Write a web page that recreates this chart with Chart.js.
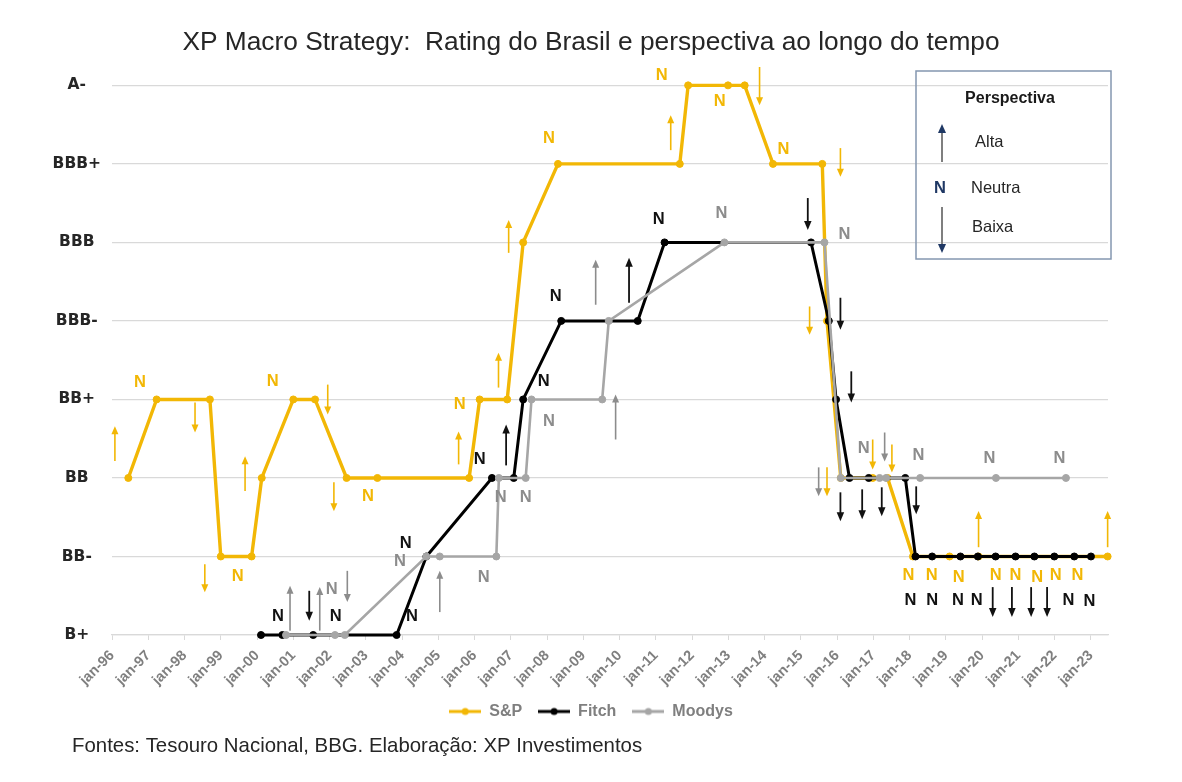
<!DOCTYPE html>
<html>
<head>
<meta charset="utf-8">
<script src="https://cdn.jsdelivr.net/npm/chart.js@4.4.1/dist/chart.umd.min.js"></script>
<style>
html,body{margin:0;padding:0;background:#fff;}
#wrap{width:1182px;height:782px;position:relative;}
</style>
</head>
<body>
<div id="wrap"><canvas id="c"></canvas></div>
<script>
// ---------- DATA ----------
const ratingLabels = ['B+','BB-','BB','BB+','BBB-','BBB','BBB+','A-'];
const yearTicks = [1996,1997,1998,1999,2000,2001,2002,2003,2004,2005,2006,2007,2008,2009,2010,2011,2012,2013,2014,2015,2016,2017,2018,2019,2020,2021,2022,2023];
const xTickLabels = ['jan-96','jan-97','jan-98','jan-99','jan-00','jan-01','jan-02','jan-03','jan-04','jan-05','jan-06','jan-07','jan-08','jan-09','jan-10','jan-11','jan-12','jan-13','jan-14','jan-15','jan-16','jan-17','jan-18','jan-19','jan-20','jan-21','jan-22','jan-23'];
const seriesNames = ['S&P','Fitch','Moodys'];

// [year, rating level] (0 = B+ ... 7 = A-)
const spData = [[1996.45,2],[1997.23,3],[1998.70,3],[1999.00,1],[1999.85,1],[2000.13,2],[2001.00,3],[2001.60,3],[2002.47,2],[2003.32,2],[2005.85,2],[2006.14,3],[2006.90,3],[2007.34,5],[2008.30,6],[2011.66,6],[2011.89,7],[2012.99,7],[2013.45,7],[2014.23,6],[2015.59,6],[2015.72,4],[2016.10,2],[2016.98,2],[2017.39,2],[2018.09,1],[2019.10,1],[2019.90,1],[2023.46,1]];
const fitchData = [[2000.11,0],[2000.70,0],[2001.55,0],[2003.85,0],[2004.67,1],[2006.48,2],[2007.08,2],[2007.34,3],[2008.39,4],[2010.50,4],[2011.24,5],[2015.28,5],[2015.77,4],[2015.97,3],[2016.34,2],[2016.87,2],[2017.88,2],[2018.16,1],[2018.62,1],[2019.40,1],[2019.88,1],[2020.37,1],[2020.92,1],[2021.44,1],[2021.99,1],[2022.54,1],[2023.00,1]];
const moodysData = [[2000.80,0],[2002.15,0],[2002.42,0],[2004.67,1],[2005.04,1],[2006.60,1],[2006.67,2],[2007.41,2],[2007.57,3],[2009.52,3],[2009.70,4],[2012.89,5],[2015.65,5],[2016.10,2],[2017.17,2],[2017.35,2],[2018.29,2],[2020.38,2],[2022.31,2]];

// Outlook annotations: "N" = neutral [year, level]; arrows [year, tail level, tip level]
const spN = [[1996.77,3.21],[1999.47,0.74],[2000.43,3.23],[2003.06,1.77],[2005.59,2.94],[2008.05,6.33],[2011.16,7.13],[2012.76,6.79],[2014.52,6.18],[2017.97,0.76],[2018.61,0.76],[2019.35,0.73],[2020.37,0.76],[2020.92,0.76],[2021.52,0.73],[2022.03,0.76],[2022.63,0.76]];
const spArrows = [[1996.08,2.215,2.659],[1998.29,2.961,2.579],[1998.56,0.902,0.546],[1999.67,1.834,2.278],[2001.95,3.189,2.808],[2002.12,1.944,1.576],[2005.56,2.173,2.592],[2006.66,3.151,3.596],[2006.94,4.867,5.286],[2011.41,6.175,6.620],[2013.86,7.234,6.747],[2016.09,6.201,5.836],[2015.24,4.184,3.825],[2015.72,2.135,1.766],[2016.98,2.490,2.109],[2017.51,2.427,2.071],[2019.90,1.118,1.579],[2023.46,1.118,1.579]];
const fitchN = [[2000.58,0.24],[2002.17,0.24],[2004.10,1.16],[2004.27,0.23],[2006.14,2.24],[2007.91,3.23],[2008.24,4.31],[2011.08,5.29],[2018.02,0.445],[2018.62,0.445],[2019.33,0.445],[2019.85,0.445],[2022.38,0.445],[2022.96,0.43]];
const fitchArrows = [[2001.44,0.563,0.182],[2006.87,2.160,2.681],[2010.26,4.231,4.803],[2015.19,5.565,5.159],[2016.09,4.295,3.888],[2016.39,3.358,2.961],[2016.09,1.817,1.449],[2016.69,1.855,1.474],[2017.23,1.881,1.512],[2018.18,1.893,1.537],[2020.29,0.610,0.229],[2020.82,0.610,0.229],[2021.35,0.610,0.229],[2021.79,0.610,0.229]];
const moodysN = [[2002.06,0.58],[2003.94,0.94],[2006.25,0.73],[2006.72,1.75],[2007.41,1.75],[2008.05,2.72],[2012.81,5.37],[2016.20,5.10],[2016.73,2.38],[2018.24,2.29],[2020.20,2.25],[2022.13,2.25]];
const moodysArrows = [[2000.91,0.055,0.626],[2001.73,0.055,0.610],[2002.49,0.817,0.419],[2005.04,0.292,0.817],[2009.34,4.206,4.778],[2009.89,2.490,3.062],[2017.31,2.579,2.211],[2015.49,2.135,1.766]];

// ---------- STYLE ----------
const GOLD = '#F2B705', BLACK = '#000000', GRAY = '#A6A6A6';
const toXY = arr => arr.map(([x, y]) => ({x, y}));

function legendIcon(color, lw) {
  const c = document.createElement('canvas');
  c.width = 32; c.height = 10;
  const g = c.getContext('2d');
  g.strokeStyle = color; g.lineWidth = lw;
  g.beginPath(); g.moveTo(0, 5); g.lineTo(32, 5); g.stroke();
  g.fillStyle = color; g.beginPath(); g.arc(16, 5, 3.5, 0, Math.PI * 2); g.fill();
  return c;
}
const icons = [legendIcon(GOLD, 3), legendIcon(BLACK, 3), legendIcon(GRAY, 3)];

function drawArrow(ctx, x, yTail, yTip, color, lw, hw, hl) {
  const dir = yTip < yTail ? -1 : 1;
  ctx.save();
  ctx.strokeStyle = color; ctx.fillStyle = color; ctx.lineWidth = lw;
  ctx.beginPath(); ctx.moveTo(x, yTail); ctx.lineTo(x, yTip - dir * hl * 0.7); ctx.stroke();
  ctx.beginPath(); ctx.moveTo(x, yTip); ctx.lineTo(x - hw / 2, yTip - dir * hl); ctx.lineTo(x + hw / 2, yTip - dir * hl); ctx.closePath(); ctx.fill();
  ctx.restore();
}

const annoSets = [
  {n: spN, arrows: spArrows, color: '#F2B705', lw: 1.6, hw: 7, hl: 8},
  {n: fitchN, arrows: fitchArrows, color: '#111111', lw: 1.8, hw: 7.5, hl: 9},
  {n: moodysN, arrows: moodysArrows, color: '#8C8C8C', lw: 1.6, hw: 7, hl: 8}
];

const annotPlugin = {
  id: 'annot',
  afterDatasetsDraw(chart) {
    const {ctx} = chart;
    const xs = chart.scales.x, ys = chart.scales.y;
    ctx.save();
    ctx.font = 'bold 16.5px "Liberation Sans", Arial, sans-serif';
    ctx.textAlign = 'center'; ctx.textBaseline = 'middle';
    annoSets.forEach(s => {
      s.arrows.forEach(([yr, a, b]) => {
        drawArrow(ctx, xs.getPixelForValue(yr), ys.getPixelForValue(a), ys.getPixelForValue(b), s.color, s.lw, s.hw, s.hl);
      });
      ctx.fillStyle = s.color;
      s.n.forEach(([yr, lv]) => ctx.fillText('N', xs.getPixelForValue(yr), ys.getPixelForValue(lv)));
    });
    ctx.restore();
  },
  afterDraw(chart) {
    const {ctx} = chart;
    ctx.save();
    // Outlook legend box
    ctx.strokeStyle = '#8497B0'; ctx.lineWidth = 1.5;
    ctx.strokeRect(916, 71, 195, 188);
    ctx.fillStyle = '#1a1a1a';
    ctx.font = 'bold 16px "Liberation Sans", Arial, sans-serif';
    ctx.textAlign = 'center'; ctx.textBaseline = 'middle';
    ctx.fillText('Perspectiva', 1010, 99);
    ctx.font = '16.5px "Liberation Sans", Arial, sans-serif';
    ctx.fillStyle = '#262626';
    ctx.textAlign = 'left';
    ctx.fillText('Alta', 975, 142);
    ctx.fillText('Neutra', 971, 188);
    ctx.fillText('Baixa', 972, 227);
    // up arrow
    ctx.strokeStyle = '#7F7F7F'; ctx.lineWidth = 2;
    ctx.beginPath(); ctx.moveTo(942, 162); ctx.lineTo(942, 131); ctx.stroke();
    ctx.fillStyle = '#1F3864';
    ctx.beginPath(); ctx.moveTo(942, 124); ctx.lineTo(938, 133); ctx.lineTo(946, 133); ctx.closePath(); ctx.fill();
    // down arrow
    ctx.beginPath(); ctx.moveTo(942, 207); ctx.lineTo(942, 245); ctx.stroke();
    ctx.beginPath(); ctx.moveTo(942, 253); ctx.lineTo(938, 244); ctx.lineTo(946, 244); ctx.closePath(); ctx.fill();
    // N
    ctx.font = 'bold 16.5px "Liberation Sans", Arial, sans-serif';
    ctx.textAlign = 'center';
    ctx.fillText('N', 940, 188);
    // footer
    ctx.font = '20.4px "Liberation Sans", Arial, sans-serif';
    ctx.fillStyle = '#262626';
    ctx.textAlign = 'left';
    ctx.fillText('Fontes: Tesouro Nacional, BBG. Elaboração: XP Investimentos', 72, 746);
    ctx.restore();
  }
};

const ds = (label, data, color, lw, order) => ({
  label, data: toXY(data), borderColor: color, backgroundColor: color,
  borderWidth: lw, pointRadius: 3.5, pointHoverRadius: 3.5, pointBackgroundColor: color,
  pointBorderColor: color, pointBorderWidth: 1, tension: 0, fill: false, clip: false, order
});

new Chart(document.getElementById('c'), {
  type: 'line',
  data: {
    datasets: [
      ds(seriesNames[0], spData, GOLD, 3.4, 3),
      ds(seriesNames[1], fitchData, BLACK, 3, 2),
      ds(seriesNames[2], moodysData, GRAY, 2.6, 1)
    ]
  },
  options: {
    responsive: true,
    maintainAspectRatio: false,
    animation: false,
    layout: {padding: {top: 0, left: 0, right: 0, bottom: 52.5}},
    plugins: {
      tooltip: {enabled: false},
      title: {
        display: true,
        text: 'XP Macro Strategy:  Rating do Brasil e perspectiva ao longo do tempo',
        color: '#262626',
        font: {family: '"Liberation Sans", Arial, sans-serif', size: 26.3, weight: 'normal', lineHeight: 1.2},
        padding: {top: 27.4, bottom: 26.4}
      },
      legend: {
        position: 'bottom',
        labels: {
          usePointStyle: true,
          pointStyleWidth: 32,
          padding: 16,
          color: '#7F7F7F',
          font: {family: '"Liberation Sans", Arial, sans-serif', size: 16, weight: 'bold'},
          sort: (a, b) => a.datasetIndex - b.datasetIndex,
          generateLabels: (chart) => {
            const items = Chart.defaults.plugins.legend.labels.generateLabels(chart);
            items.forEach(it => { it.pointStyle = icons[it.datasetIndex]; });
            return items;
          }
        }
      }
    },
    scales: {
      x: {
        type: 'linear',
        min: 1996,
        max: 2023.47,
        afterBuildTicks: (s) => { s.ticks = yearTicks.map(v => ({value: v})); },
        afterFit: (s) => { s.height = 52.5; },
        grid: {drawOnChartArea: false, drawTicks: true, tickLength: 5, color: '#D9D9D9'},
        border: {display: true, color: '#D9D9D9', width: 1.3},
        ticks: {
          autoSkip: false,
          minRotation: 45, maxRotation: 45,
          padding: 7,
          color: '#7F7F7F',
          font: {family: '"Liberation Sans", Arial, sans-serif', size: 14.5, weight: 'bold'},
          callback: (v) => { const i = yearTicks.indexOf(v); return i >= 0 ? xTickLabels[i] : ''; }
        }
      },
      y: {
        type: 'linear',
        min: 0, max: 7,
        afterBuildTicks: (s) => { s.ticks = ratingLabels.map((_, i) => ({value: i})); },
        afterFit: (s) => { s.width = 112; },
        grid: {color: '#D9D9D9', lineWidth: 1.3, drawTicks: false},
        border: {display: false},
        ticks: {
          crossAlign: 'center',
          padding: 11,
          color: '#262626',
          font: {family: '"DejaVu Sans", sans-serif', size: 15.5, weight: 'bold'},
          callback: (v) => ratingLabels[v]
        }
      },
      yR: {
        type: 'linear',
        position: 'right',
        display: true,
        grid: {display: false},
        border: {display: false},
        ticks: {display: false},
        afterFit: (s) => { s.width = 74; }
      }
    }
  },
  plugins: [annotPlugin]
});
</script>
</body>
</html>
